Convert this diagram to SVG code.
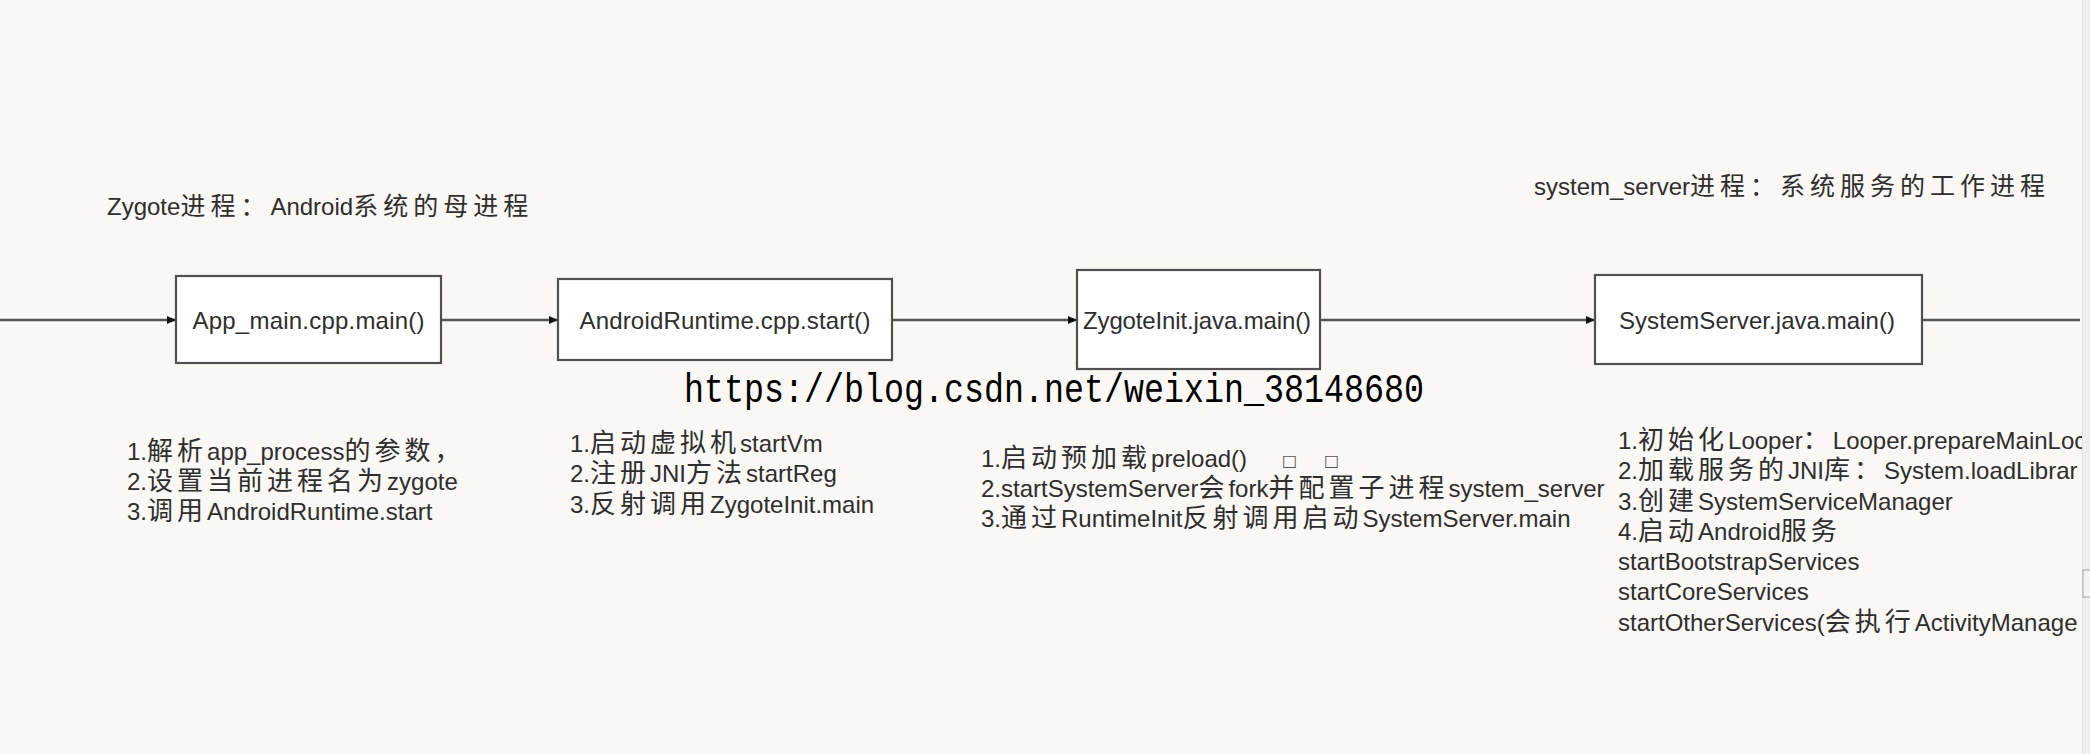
<svg xmlns="http://www.w3.org/2000/svg" width="2090" height="754" viewBox="0 0 2090 754">
<style>
.bg{fill:#f9f8f4}
.box{fill:#ffffff;stroke:#505050;stroke-width:2.2}
.conn{stroke:#555555;stroke-width:2.4;fill:none}
.t{font-family:"Liberation Sans",Arial,"Noto Sans CJK SC",sans-serif;fill:#2e2e2e}
.title{font-size:24px}
.lbl{font-size:24px;text-anchor:middle}
.desc{font-size:24px}
.cj{font-size:26px;letter-spacing:4px}
.cjt{font-size:25px;letter-spacing:5px}
.wm{font-family:"Liberation Mono","Courier New",monospace;font-size:40px;fill:#000000}
.sq{font-family:"DejaVu Sans",sans-serif;font-size:16px;fill:#555555}
</style>
<defs>
<marker id="arr" markerWidth="9" markerHeight="8" refX="9" refY="4" orient="auto" markerUnits="userSpaceOnUse">
<path d="M0,0 L9,4 L0,8 z" fill="#111111"/>
</marker>
<clipPath id="clipR"><rect x="0" y="0" width="2082" height="754"/></clipPath>
</defs>
<rect class="bg" x="0" y="0" width="2090" height="754"/>
<rect x="2082" y="0" width="8" height="754" fill="#eeeeec"/>
<line x1="2082.5" y1="0" x2="2082.5" y2="754" stroke="#e2e2e0" stroke-width="1"/>
<rect x="2083" y="570" width="8" height="27" fill="#f4f4f2" stroke="#b0b0b0" stroke-width="1.2"/>

<g id="titles">
<text class="t title" x="107" y="215">Zygote<tspan class="cjt">进程：</tspan>Android<tspan class="cjt">系统的母进程</tspan></text>
<text class="t title" x="1534" y="195">system_server<tspan class="cjt">进程：系统服务的工作进程</tspan></text>
</g>

<g id="connectors">
<line class="conn" x1="0" y1="320" x2="176" y2="320" marker-end="url(#arr)"/>
<line class="conn" x1="441" y1="320" x2="558" y2="320" marker-end="url(#arr)"/>
<line class="conn" x1="892" y1="320" x2="1077" y2="320" marker-end="url(#arr)"/>
<line class="conn" x1="1320" y1="320" x2="1595" y2="320" marker-end="url(#arr)"/>
<line class="conn" x1="1922" y1="320" x2="2080" y2="320"/>
</g>

<g id="node-appmain">
<rect class="box" x="176" y="276" width="265" height="87"/>
<text class="t lbl" x="308.5" y="329" textLength="232">App_main.cpp.main()</text>
</g>
<g id="node-androidruntime">
<rect class="box" x="558" y="279" width="334" height="81"/>
<text class="t lbl" x="725" y="329" textLength="291">AndroidRuntime.cpp.start()</text>
</g>
<g id="node-zygoteinit">
<rect class="box" x="1077" y="270" width="243" height="99"/>
<text class="t lbl" x="1197" y="329" textLength="228">ZygoteInit.java.main()</text>
</g>
<g id="node-systemserver">
<rect class="box" x="1595" y="275" width="327" height="89"/>
<text class="t lbl" x="1757" y="329" textLength="276">SystemServer.java.main()</text>
</g>

<g id="watermark">
<text class="wm" x="684" y="402" textLength="740" lengthAdjust="spacingAndGlyphs">https://blog.csdn.net/weixin_38148680</text>
</g>

<g id="desc-appmain">
<text class="t desc" x="127" y="460">1.<tspan class="cj">解析</tspan>app_process<tspan class="cj">的参数，</tspan></text>
<text class="t desc" x="127" y="490">2.<tspan class="cj">设置当前进程名为</tspan>zygote</text>
<text class="t desc" x="127" y="520">3.<tspan class="cj">调用</tspan>AndroidRuntime.start</text>
</g>
<g id="desc-androidruntime">
<text class="t desc" x="570" y="452">1.<tspan class="cj">启动虚拟机</tspan>startVm</text>
<text class="t desc" x="570" y="482">2.<tspan class="cj">注册</tspan>JNI<tspan class="cj">方法</tspan>startReg</text>
<text class="t desc" x="570" y="513">3.<tspan class="cj">反射调用</tspan>ZygoteInit.main</text>
</g>
<g id="desc-zygoteinit">
<text class="t desc" x="981" y="467">1.<tspan class="cj">启动预加载</tspan>preload()</text>
<text class="sq" x="1282" y="466">□</text>
<text class="sq" x="1324" y="466">□</text>
<text class="t desc" x="981" y="497">2.startSystemServer<tspan class="cj">会</tspan>fork<tspan class="cj">并配置子进程</tspan>system_server</text>
<text class="t desc" x="981" y="527">3.<tspan class="cj">通过</tspan>RuntimeInit<tspan class="cj">反射调用启动</tspan>SystemServer.main</text>
</g>
<g id="desc-systemserver" clip-path="url(#clipR)">
<text class="t desc" x="1618" y="449">1.<tspan class="cj">初始化</tspan>Looper<tspan class="cj">：</tspan>Looper.prepareMainLoc</text>
<text class="t desc" x="1618" y="479">2.<tspan class="cj">加载服务的</tspan>JNI<tspan class="cj">库：</tspan>System.loadLibrar</text>
<text class="t desc" x="1618" y="510">3.<tspan class="cj">创建</tspan>SystemServiceManager</text>
<text class="t desc" x="1618" y="540">4.<tspan class="cj">启动</tspan>Android<tspan class="cj">服务</tspan></text>
<text class="t desc" x="1618" y="570">startBootstrapServices</text>
<text class="t desc" x="1618" y="600">startCoreServices</text>
<text class="t desc" x="1618" y="631">startOtherServices(<tspan class="cj">会执行</tspan>ActivityManage</text>
</g>
</svg>
